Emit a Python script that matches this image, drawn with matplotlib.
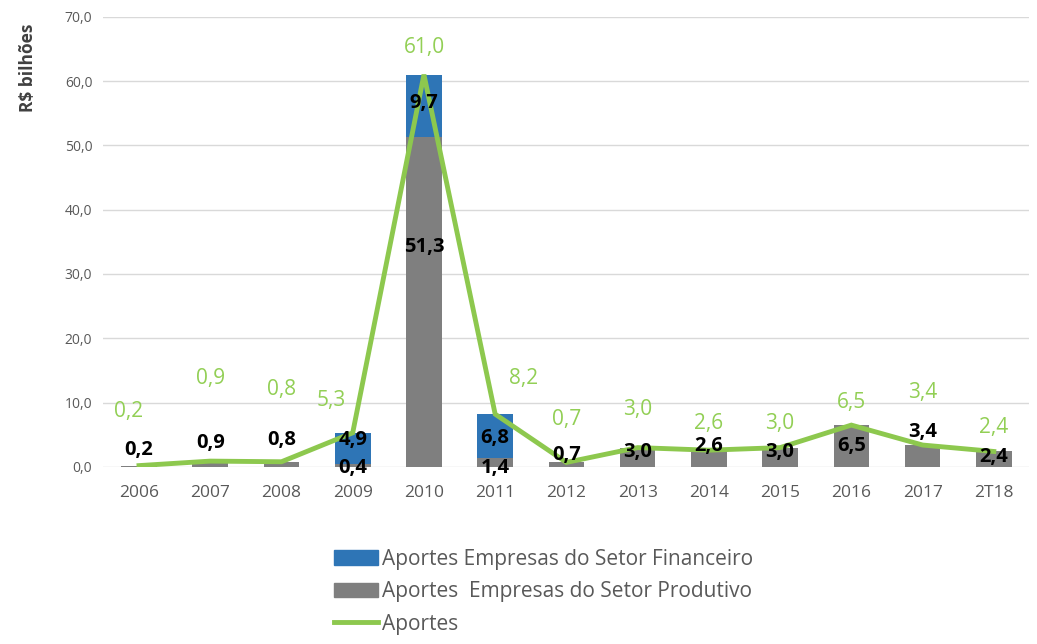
import numpy as np
import matplotlib.pyplot as plt
from matplotlib.patches import Patch
from matplotlib.lines import Line2D

# values (R$ bilhoes)
years = ["2006", "2007", "2008", "2009", "2010", "2011", "2012",
         "2013", "2014", "2015", "2016", "2017", "2T18"]
produtivo = [0.2, 0.9, 0.8, 0.4, 51.3, 1.4, 0.7, 3.0, 2.6, 3.0, 6.5, 3.4, 2.4]
financeiro = [0.0, 0.0, 0.0, 4.9, 9.7, 6.8, 0.0, 0.0, 0.0, 0.0, 0.0, 0.0, 0.0]
aportes = [0.2, 0.9, 0.8, 5.3, 61.0, 8.2, 0.7, 3.0, 2.6, 3.0, 6.5, 3.4, 2.4]

prod_label_y = [2.6, 3.7, 4.2, -0.2, 34.2, -0.2, 1.9, 2.3, 3.3, 2.3, 3.3, 5.4, 1.6]
fin_label_y = [None, None, None, 4.2, 56.6, 4.5, None, None, None, None, None, None, None]
tot_label_y = [8.6, 13.8, 12.0, 10.4, 65.2, 13.8, 7.3, 8.9, 6.8, 6.8, 10.0, 11.5, 6.2]
tot_label_dx = [-0.14, 0, 0, -0.3, 0, 0.4, 0, 0, 0, 0, 0, 0, 0]

BLUE = "#2E75B6"
GRAY = "#7F7F7F"
GREEN = "#8DC84E"
GREEN_TXT = "#92CF55"

plt.rcParams['font.family'] = ['Open Sans', 'DejaVu Sans']

fig = plt.figure(figsize=(10.37, 6.44), dpi=100)
ax = fig.add_axes([0.0997, 0.275, 0.893, 0.699])

x = np.arange(len(years))
ax.bar(x, produtivo, width=0.5, color=GRAY, zorder=2)
ax.bar(x, financeiro, width=0.5, bottom=produtivo, color=BLUE, zorder=2)
ax.plot(x, aportes, color=GREEN, lw=3.5, zorder=3, solid_joinstyle='miter')

for i in range(len(years)):
    ax.text(x[i], prod_label_y[i], f"{produtivo[i]:.1f}".replace(".", ","),
            ha='center', va='center', fontsize=14.5, fontweight='bold',
            color='black', zorder=4)
    if fin_label_y[i] is not None:
        ax.text(x[i], fin_label_y[i], f"{financeiro[i]:.1f}".replace(".", ","),
                ha='center', va='center', fontsize=14.5, fontweight='bold',
                color='black', zorder=4)
    ax.text(x[i] + tot_label_dx[i], tot_label_y[i], f"{aportes[i]:.1f}".replace(".", ","),
            ha='center', va='center', fontsize=15, color=GREEN_TXT, zorder=4)

ax.set_xlim(-0.5, len(years) - 0.5)
ax.set_ylim(0, 70)
ax.set_yticks(np.arange(0, 71, 10))
ax.set_yticklabels([f"{v:.1f}".replace(".", ",") for v in np.arange(0, 71, 10)],
                   fontsize=10, color="#595959")
ax.set_xticks(x)
ax.set_xticklabels(years, fontsize=12.5, color="#595959")
ax.tick_params(axis='both', length=0)
ax.tick_params(axis='y', pad=8)
ax.tick_params(axis='x', pad=13)
ax.grid(axis='y', color="#D9D9D9", lw=1, zorder=0)
ax.set_axisbelow(True)
for s in ax.spines.values():
    s.set_visible(False)
ax.set_ylabel("R$ bilhões", fontsize=12.5, fontweight='bold', color="#404040")
ax.yaxis.set_label_coords(-0.072, 0.887)

handles = [Patch(color=BLUE), Patch(color=GRAY), Line2D([], [], color=GREEN, lw=3.5)]
labels = ["Aportes Empresas do Setor Financeiro",
          "Aportes  Empresas do Setor Produtivo",
          "Aportes"]
fig.legend(handles, labels, loc='upper left', bbox_to_anchor=(0.322, 0.148),
           frameon=False, fontsize=15, handlelength=2.1, handleheight=0.7,
           handletextpad=0.2, labelspacing=0.55, labelcolor="#595959",
           borderaxespad=0, borderpad=0)

fig.savefig("out.png", dpi=100)
